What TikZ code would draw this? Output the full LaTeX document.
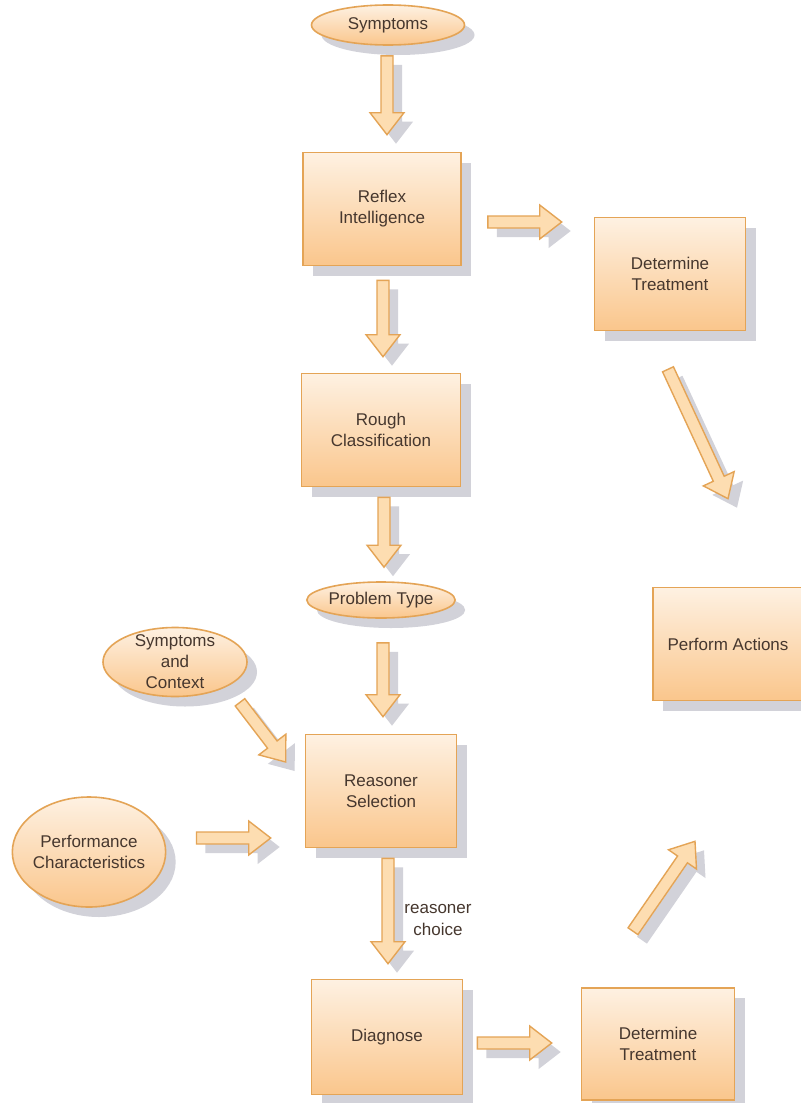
\documentclass[tikz,border=0pt]{standalone}
\usepackage{fontspec}
\setmainfont{Liberation Sans}
\usetikzlibrary{shapes.geometric,shadows,calc}

\definecolor{boxtop}{HTML}{FEF1E2}
\definecolor{boxbottom}{HTML}{FAC68C}
\definecolor{boxline}{HTML}{E4A456}
\definecolor{arrowfill}{HTML}{FDDDB1}
\definecolor{shadowgray}{HTML}{D2D2D9}
\definecolor{labeltext}{HTML}{46372E}

% block arrow from tail #1 to tip #2
\newcommand{\blockarrow}[2]{%
  \path #1 coordinate (ba-t) #2 coordinate (ba-h);
  \path ($(ba-h)!11pt!(ba-t)$) coordinate (ba-b);
  \draw[flowarrow] ($(ba-t)!3pt!90:(ba-h)$) -- ($(ba-b)!3pt!90:(ba-h)$)
    -- ($(ba-b)!8.5pt!90:(ba-h)$) -- (ba-h) -- ($(ba-b)!8.5pt!-90:(ba-h)$)
    -- ($(ba-b)!3pt!-90:(ba-h)$) -- ($(ba-t)!3pt!-90:(ba-h)$) -- cycle;
}

\begin{document}
\begin{tikzpicture}[x=0.5pt,y=-0.5pt,
font=\fontsize{8.5}{10.5}\selectfont,text=labeltext,
box/.style={draw=boxline,line width=0.8pt,rectangle,top color=boxtop,bottom color=boxbottom,
    minimum width=75.5pt,minimum height=56.5pt,align=center,
    drop shadow={shadow xshift=5pt,shadow yshift=-5pt,fill=shadowgray,opacity=1}},
oval/.style={ellipse,draw=boxline,line width=0.8pt,top color=boxtop,bottom color=boxbottom,
    inner sep=0pt,align=center,
    drop shadow={shadow xshift=5pt,shadow yshift=-5pt,fill=shadowgray,opacity=1}},
flowarrow/.style={draw=boxline,line width=0.7pt,fill=arrowfill,line join=miter,
    drop shadow={shadow xshift=4.5pt,shadow yshift=-4.5pt,fill=shadowgray,opacity=1}}]
\clip (0,0) rectangle (801,1103);
\fill[white] (0,0) rectangle (801,1103);

% main column
\node (symp) [oval,minimum width=76.5pt,minimum height=20pt] at (388,25) {Symptoms};
\node (reflex) [box,minimum width=79pt] at (382,209) {Reflex\\Intelligence};
\node (rough) [box,minimum width=79.5pt] at (381,430) {Rough\\Classification};
\node (ptype) [oval,minimum width=68.5pt,minimum height=18pt] at (381,600) {Problem Type};
\node (rsel) [box] at (381,791) {Reasoner\\Selection};
\node (diag) [box,minimum height=57.5pt] at (387,1037) {Diagnose};

% inputs on the left
\node (sac) [oval,inner ysep=-6pt,minimum width=72pt,minimum height=34.5pt] at (175,662) {Symptoms\\and\\Context};
\node (perf) [oval,inner xsep=-1pt,minimum width=76pt,minimum height=55pt] at (89,852) {Performance\\Characteristics};

% right side
\node (dtop) [box] at (670,274) {Determine\\Treatment};
\node (act) [box,minimum width=75pt] at (728,644) {Perform Actions};
\node (dbot) [box,minimum width=76.5pt,minimum height=56pt] at (658,1044) {Determine\\Treatment};

\node (rchoice) [align=center,font=\fontsize{8.5}{11}\selectfont] at (438,920) {reasoner\\choice};

% arrows
\blockarrow{($(symp.south)+(-1,10)$)}{($(reflex.north)+(5,-17)$)}
\blockarrow{($(reflex.east)+(26,13)$)}{($(dtop.west)+(-32,-52)$)}
\blockarrow{($(reflex.south)+(1,14)$)}{($(rough.north)+(2,-16)$)}
\blockarrow{($(rough.south)+(3,10)$)}{($(ptype.north)+(3,-14)$)}
\blockarrow{($(ptype.south)+(2,24)$)}{($(rsel.north)+(2,-17)$)}
\blockarrow{($(sac.south)+(65,5)$)}{($(rsel.west)+(-19,-29)$)}
\blockarrow{($(perf.east)+(30,-14)$)}{($(rsel.west)+(-34,47)$)}
\blockarrow{($(rsel.south)+(7,10)$)}{($(diag.north)+(1,-15)$)}
\blockarrow{($(diag.east)+(14,6)$)}{($(dbot.west)+(-29,-1)$)}
\blockarrow{($(dbot.north)+(-25,-56)$)}{($(act.south)+(-33,140)$)}
\blockarrow{($(dtop.south)+(-2,38)$)}{($(act.north)+(0,-88)$)}
\end{tikzpicture}
\end{document}
